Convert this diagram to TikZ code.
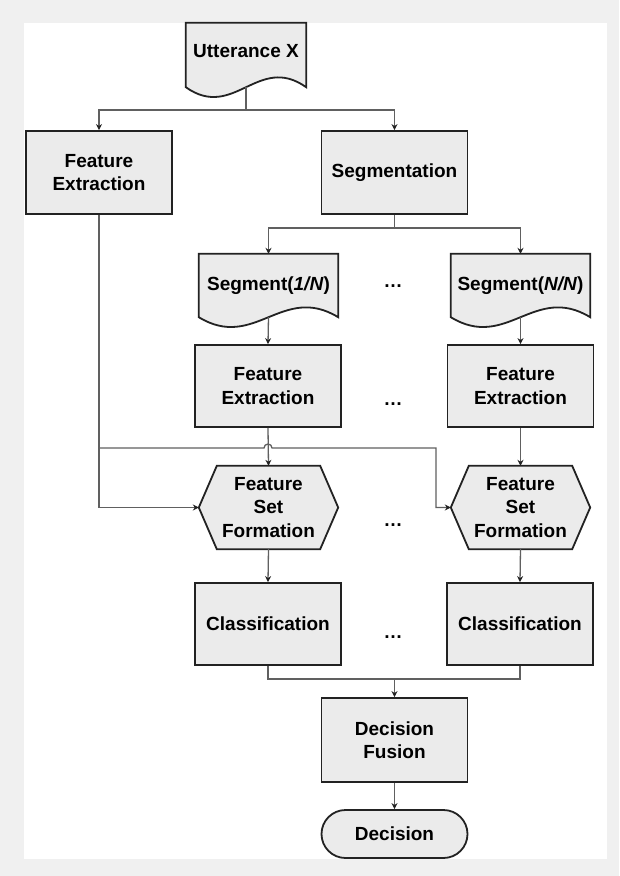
\documentclass[tikz,border=0pt]{standalone}
\usepackage{fontspec}
\setmainfont{Liberation Sans}
\usetikzlibrary{arrows.meta,shapes.misc,calc}
\pgfdeclarelayer{back}
\pgfdeclarelayer{bg}
\pgfsetlayers{back,bg,main}
\definecolor{bgout}{HTML}{F0F0F0}
\definecolor{boxfill}{HTML}{EBEBEB}
\definecolor{boxline}{HTML}{222222}
\definecolor{connline}{HTML}{606060}
\tikzset{
  lbl/.style={font=\fontsize{19}{23.5}\selectfont\bfseries, align=center, text=black, inner sep=0pt},
  box/.style={lbl, draw=boxline, line width=1.8pt, fill=boxfill, rectangle, minimum width=146pt, minimum height=83pt},
  shapeframe/.style={draw=boxline, line width=1.8pt, fill=boxfill, line join=miter},
  conn/.style={draw=connline, line width=1.3pt},
  arr/.style={conn, -{Stealth[length=6pt,width=6pt,color=boxline]}},
  dotsnode/.style={font=\fontsize{19}{23}\selectfont\bfseries, inner sep=0pt},
  docnode/.style={lbl, rectangle, minimum width=139pt, minimum height=63pt},
  hexnode/.style={lbl, rectangle, minimum width=139pt, minimum height=83pt}
}
\newcommand\mydocshape[1]{%
  \begin{pgfonlayer}{bg}
  \draw[shapeframe] (#1.north west) -- (#1.north east) -- (#1.south east)
    .. controls ($(#1.south east)!0.4!(#1.south west)+(0,-34)$) and ($(#1.south west)!0.4!(#1.south east)+(0,34)$) .. (#1.south west) -- cycle;
  \end{pgfonlayer}}
\newcommand\myhexshape[1]{%
  \begin{pgfonlayer}{bg}
  \draw[shapeframe] (#1.west) -- ($(#1.north west)+(18,0)$) -- ($(#1.north east)+(-18,0)$) -- (#1.east)
    -- ($(#1.south east)+(-18,0)$) -- ($(#1.south west)+(18,0)$) -- cycle;
  \end{pgfonlayer}}
\begin{document}
\begin{tikzpicture}[x=1pt,y=-1pt]
\begin{pgfonlayer}{back}
\fill[bgout] (0,0) rectangle (619,876);
\fill[white] (24,23) rectangle (607,859);
\end{pgfonlayer}
\useasboundingbox (0,0) rectangle (619,876);

% top document
\node[docnode, minimum width=120pt, minimum height=64pt, text depth=8pt] (utt) at (246,55) {Utterance X};
\mydocshape{utt}

\node[box] (fe0) at (99,172.5) {Feature\\Extraction};
\node[box] (seg) at (394.5,172.5) {Segmentation};

% segments
\node[docnode] (s1) at (268.5,285.5) {Segment(\textit{1/N})};
\mydocshape{s1}
\node[docnode] (sN) at (520.5,285.5) {Segment(\textit{N/N})};
\mydocshape{sN}

\node[box, minimum height=82pt] (fe1) at (268,386) {Feature\\Extraction};
\node[box, minimum height=82pt] (feN) at (520.5,386) {Feature\\Extraction};

\node[hexnode] (h1) at (268.5,507.5) {Feature\\Set\\Formation};
\myhexshape{h1}
\node[hexnode] (hN) at (520.5,507.5) {Feature\\Set\\Formation};
\myhexshape{hN}

\node[box, minimum height=82pt] (cl1) at (268,624) {Classification};
\node[box, minimum height=82pt] (clN) at (520,624) {Classification};

\node[box, minimum height=84pt] (df) at (394.5,740) {Decision\\Fusion};
\node[lbl, draw=boxline, line width=1.8pt, fill=boxfill, rounded rectangle, minimum width=146pt, minimum height=48pt] (dec) at (394.5,834) {Decision};

% dots
\node[dotsnode] (d1) at (393,286) {…};
\node[dotsnode] (d2) at (393,404) {…};
\node[dotsnode] (d3) at (393,525) {…};
\node[dotsnode] (d4) at (393,637) {…};

% connectors
\coordinate (j0) at (246,110);
\draw[conn] (utt.south) -- (j0);
\draw[arr] (j0) -| (fe0.north);
\draw[arr] (j0) -| (seg.north);

\coordinate (j1) at (394.5,228);
\draw[conn] (seg.south) -- (j1);
\draw[arr] (j1) -| (s1.north);
\draw[arr] (j1) -| (sN.north);

\draw[arr] (s1.south) -- (fe1.north);
\draw[arr] (sN.south) -- (feN.north);

\draw[arr] (fe0.south) |- (h1.west);
\coordinate (j2) at (99,448);
\coordinate (j3) at (436,448);
\draw[arr] (j2) -- ($(fe1.south |- j2)+(-4,0)$) arc[start angle=180,end angle=0,radius=4pt] -- (j3) |- (hN.west);

\draw[arr] (fe1.south) -- (h1.north);
\draw[arr] (feN.south) -- (hN.north);
\draw[arr] (h1.south) -- (cl1.north);
\draw[arr] (hN.south) -- (clN.north);

\coordinate (j4) at (394.5,679);
\draw[conn] (cl1.south) |- (j4) -| (clN.south);
\draw[arr] (j4) -- (df.north);
\draw[arr] (df.south) -- (dec.north);
\end{tikzpicture}
\end{document}
